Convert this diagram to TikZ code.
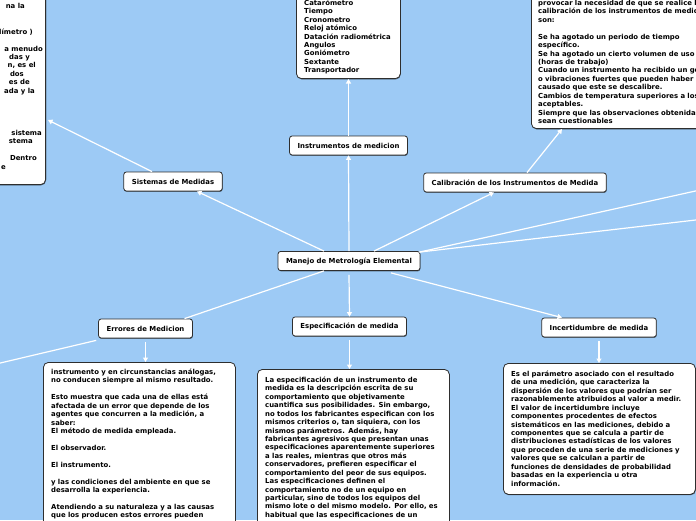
\documentclass[tikz,border=0pt]{standalone}
\usepackage{fontspec}
\setmainfont{DejaVu Sans}
\usetikzlibrary{arrows.meta,shadows,calc}
\definecolor{bgblue}{HTML}{9DCAF5}
\definecolor{bord}{HTML}{2E2E2E}
\newcommand{\mmfont}{\fontsize{6.9}{8.43}\selectfont\bfseries}
\begin{document}
\begin{tikzpicture}[x=1pt,y=-1pt,
  topic/.style={draw=bord, fill=white, rounded corners=2.5pt, line width=0.8pt,
    inner xsep=8pt, inner ysep=0pt, minimum height=19pt, font=\mmfont,
    drop shadow={shadow xshift=0.4pt, shadow yshift=-0.8pt, opacity=0.55, fill=black}},
  bigbox/.style={draw=bord, fill=white, rounded corners=5pt, line width=0.8pt,
    inner sep=0pt,
    drop shadow={shadow xshift=0.4pt, shadow yshift=-0.8pt, opacity=0.55, fill=black}},
  boxtext/.style={inner sep=0pt, text width=260pt, align=left, font=\mmfont, anchor=base west},
  frag/.style={inner sep=0pt, font=\mmfont, anchor=base east},
  link/.style={draw=white, line width=1.2pt},
  arr/.style={link, -{Triangle[length=4.5pt,width=5pt]}}
]
\useasboundingbox (0,0) rectangle (696,520);
\clip (0,0) rectangle (696,520);
\fill[bgblue] (0,0) rectangle (696,520);

% ---------- big boxes ----------
\node[bigbox, minimum width=146pt, minimum height=200pt, anchor=south east] (boxtl) at (46,185) {};
\node[bigbox, minimum width=104pt, minimum height=99pt, anchor=south west] (boxtc) at (296,79) {};
\node[bigbox, minimum width=200pt, minimum height=150pt, anchor=south west] (boxtr) at (531,129) {};
\node[bigbox, minimum width=192pt, minimum height=200pt, anchor=north west] (boxbl) at (43,362) {};
\node[bigbox, minimum width=192pt, minimum height=200pt, anchor=north west] (boxbc) at (257,369) {};
\node[bigbox, minimum width=192pt, minimum height=131pt, anchor=north west] (boxbr) at (503,363) {};

% ---------- topic nodes ----------
\node[topic] (c)   at (349,261)   {Manejo de Metrología Elemental};
\node[topic] (sis) at (173,181.5) {Sistemas de Medidas};
\node[topic] (ins) at (348.5,145.5) {Instrumentos de medicion};
\node[topic] (cal) at (515,182.5) {Calibración de los Instrumentos de Medida};
\node[topic] (err) at (145.5,328.5) {Errores de Medicion};
\node[topic] (esp) at (349.5,326.5) {Especificación de medida};
\node[topic] (inc) at (599,327.5) {Incertidumbre de medida};

% ---------- off-canvas ends ----------
\coordinate (r1) at (700,190);
\coordinate (r2) at (700,219.5);
\coordinate (l1) at (-4,364);

% ---------- connectors ----------
\draw[arr] ([xshift=-25pt]c.north) -- ([xshift=24pt]sis.south);
\draw[arr] (c.north) -- (ins.south);
\draw[arr] ([xshift=25pt]c.north) -- ([xshift=-21pt]cal.south);
\draw[link] ([xshift=-1pt,yshift=-1pt]c.north east) -- (r1);
\draw[link] ([xshift=-1pt,yshift=-1pt]c.north east) -- (r2);
\draw[link] ([xshift=-25pt]c.south) -- ([xshift=39pt]err.north);
\draw[arr] ([yshift=-4pt]c.south) -- (esp.north);
\draw[arr] ([xshift=42pt,yshift=-2pt]c.south) -- ([xshift=-37pt]inc.north);
\draw[link] ([xshift=-2pt,yshift=-2pt]err.south west) -- (l1);
\draw[arr] ([yshift=-4pt]err.south) -- (err.south |- boxbl.north);
\draw[arr] ([yshift=-4pt]esp.south) -- (esp.south |- boxbc.north);
\draw[arr] ([yshift=-4pt]inc.south) -- (inc.south |- boxbr.north);
\draw[arr] ([xshift=-21pt]sis.north) -- ([xshift=2pt,yshift=65pt]boxtl.south east);
\draw[arr] (ins.north) -- (ins.north |- boxtc.south);
\draw[arr] ([xshift=12pt]cal.north) -- ([xshift=31pt]boxtr.south west);

% ---------- texts ----------
\node[frag] (tl1)  at (25,8.9)   {na la};
\node[frag] (tl2)  at (33,34.2)  {límetro )};
\node[frag] (tl3)  at (43,51.0)  {a menudo};
\node[frag] (tl4)  at (30,59.5)  {das y};
\node[frag] (tl5)  at (36,67.9)  {n, es el};
\node[frag] (tl6)  at (24,76.3)  {dos};
\node[frag] (tl7)  at (30,84.8)  {es de};
\node[frag] (tl8)  at (35,93.2)  {ada y la};
\node[frag] (tl9)  at (42,135.4) {sistema};
\node[frag] (tl10) at (33,143.8) {stema};
\node[frag] (tl11) at (37,160.6) {Dentro};
\node[frag] (tl12) at (6,169.1)  {e};

\node[boxtext] (ttc) at (304,5.3) {Catarómetro\\Tiempo\\Cronometro\\Reloj atómico\\Datación radiométrica\\Angulos\\Goniómetro\\Sextante\\Transportador};

\node[boxtext] (ttr) at (538,5.5) {provocar la necesidad de que se realice la\\
calibración de los instrumentos de medición\\
son:\\[8.43pt]
Se ha agotado un periodo de tiempo\\
específico.\\
Se ha agotado un cierto volumen de uso\\
(horas de trabajo)\\
Cuando un instrumento ha recibido un golpe\\
o vibraciones fuertes que pueden haber\\
causado que este se descalibre.\\
Cambios de temperatura superiores a los\\
aceptables.\\
Siempre que las observaciones obtenidas\\
sean cuestionables};

\node[boxtext] (tbl) at (51,374.5) {instrumento y en circunstancias análogas,\\
no conducen siempre al mismo resultado.\\[8.43pt]
Esto muestra que cada una de ellas está\\
afectada de un error que depende de los\\
agentes que concurren a la medición, a\\
saber:\\
El método de medida empleada.\\[8.43pt]
El observador.\\[8.43pt]
El instrumento.\\[8.43pt]
y las condiciones del ambiente en que se\\
desarrolla la experiencia.\\[8.43pt]
Atendiendo a su naturaleza y a las causas\\
que los producen estos errores pueden};

\node[boxtext] (tbc) at (265,382.5) {La especificación de un instrumento de\\
medida es la descripción escrita de su\\
comportamiento que objetivamente\\
cuantifica sus posibilidades. Sin embargo,\\
no todos los fabricantes especifican con los\\
mismos criterios o, tan siquiera, con los\\
mismos parámetros. Además, hay\\
fabricantes agresivos que presentan unas\\
especificaciones aparentemente superiores\\
a las reales, mientras que otros más\\
conservadores, prefieren especificar el\\
comportamiento del peor de sus equipos.\\
Las especificaciones definen el\\
comportamiento no de un equipo en\\
particular, sino de todos los equipos del\\
mismo lote o del mismo modelo. Por ello, es\\
habitual que las especificaciones de un};

\node[boxtext] (tbr) at (511,376.5) {Es el parámetro asociado con el resultado\\
de una medición, que caracteriza la\\
dispersión de los valores que podrían ser\\
razonablemente atribuidos al valor a medir.\\
El valor de incertidumbre incluye\\
componentes procedentes de efectos\\
sistemáticos en las mediciones, debido a\\
componentes que se calcula a partir de\\
distribuciones estadísticas de los valores\\
que proceden de una serie de mediciones y\\
valores que se calculan a partir de\\
funciones de densidades de probabilidad\\
basadas en la experiencia u otra\\
información.};
\end{tikzpicture}
\end{document}
